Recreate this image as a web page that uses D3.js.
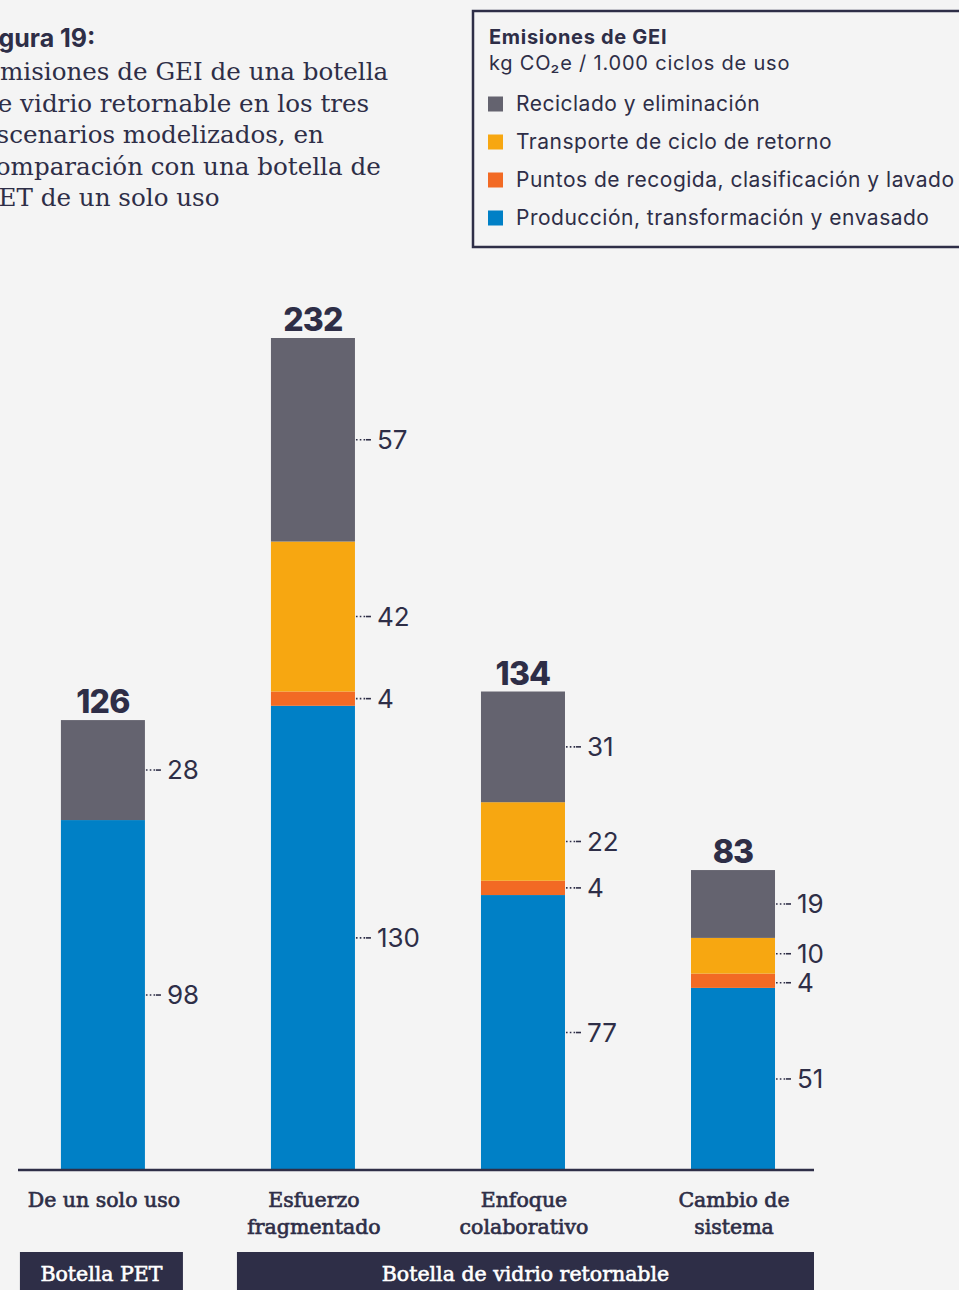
<!DOCTYPE html>
<html>
<head>
<meta charset="utf-8">
<script src="https://cdn.jsdelivr.net/npm/d3@7"></script>
<style>
  html, body { margin: 0; padding: 0; background: #f4f4f4; }
  svg { display: block; }
</style>
</head>
<body>
<svg id="chart" width="959" height="1290"></svg>
<script>
// ---------- DATA ----------
const categories = ["De un solo uso", "Esfuerzo fragmentado", "Enfoque colaborativo", "Cambio de sistema"];
const categoryLines = [["De un solo uso"], ["Esfuerzo", "fragmentado"], ["Enfoque", "colaborativo"], ["Cambio de", "sistema"]];
const seriesKeys = ["produccion", "recogida", "transporte", "reciclado"];
const seriesNames = ["Producción, transformación y envasado", "Puntos de recogida, clasificación y lavado", "Transporte de ciclo de retorno", "Reciclado y eliminación"];
const produccion = [98, 130, 77, 51];
const recogida = [0, 4, 4, 4];
const transporte = [0, 42, 22, 10];
const reciclado = [28, 57, 31, 19];
const totals = [126, 232, 134, 83];
const groupLabels = ["Botella PET", "Botella de vidrio retornable"];
const groupCounts = [1, 3];
const titleBold = "Figura 19:";
const titleLines = ["Emisiones de GEI de una botella", "de vidrio retornable en los tres", "escenarios modelizados, en", "comparación con una botella de", "PET de un solo uso"];
const legendTitle = "Emisiones de GEI";
const legendSubtitle = "kg CO₂e / 1.000 ciclos de uso";

// ---------- STYLE ----------
const colors = { produccion: "#0080c6", recogida: "#f26a24", transporte: "#f7a711", reciclado: "#64636f" };
const dark = "#2e2e47";
const sans = "Inter, Lato, 'Noto Sans', sans-serif";
const slab = "'DejaVu Serif', serif";

const svg = d3.select("#chart");
svg.append("rect").attr("width", 959).attr("height", 1290).attr("fill", "#f4f4f4");

const table = categories.map((c, i) => ({
  cat: c, produccion: produccion[i], recogida: recogida[i], transporte: transporte[i], reciclado: reciclado[i]
}));
const stacked = d3.stack().keys(seriesKeys)(table);

const x = d3.scaleBand().domain(categories).range([18, 814]).paddingInner(0.6).paddingOuter(0.195).align(0.524);
const y = d3.scaleLinear().domain([0, 233]).range([1170, 338]);

// bars
const layer = svg.append("g").selectAll("g").data(stacked).join("g").attr("fill", d => colors[d.key]);
layer.selectAll("rect").data(d => d.map(s => ({ s, key: d.key })).filter(o => o.s[1] > o.s[0]))
  .join("rect")
  .attr("x", o => x(o.s.data.cat))
  .attr("width", x.bandwidth())
  .attr("y", o => y(o.s[1]))
  .attr("height", o => y(o.s[0]) - y(o.s[1]));

// value labels with leaders (with simple collision spacing per bar)
const lbl = svg.append("g");
categories.forEach((c, ci) => {
  const items = [];
  stacked.forEach(ser => {
    const s = ser[ci];
    const v = s[1] - s[0];
    if (v > 0) items.push({ v, ym: (y(s[0]) + y(s[1])) / 2, xr: x(c) + x.bandwidth() });
  });
  const minGap = 29;
  for (let k = 1; k < items.length; k++) {
    const lower = items[k - 1], upper = items[k];
    const gap = lower.ym - upper.ym;
    if (gap < minGap) { const d = (minGap - gap) / 2; lower.ym += d; upper.ym -= d; }
  }
  items.forEach(it => {
    lbl.append("line").attr("x1", it.xr + 1).attr("x2", it.xr + 11).attr("y1", it.ym).attr("y2", it.ym)
      .attr("stroke", dark).attr("stroke-width", 1.6).attr("stroke-dasharray", "1.6,2.2");
    lbl.append("line").attr("x1", it.xr + 11).attr("x2", it.xr + 16).attr("y1", it.ym).attr("y2", it.ym)
      .attr("stroke", dark).attr("stroke-width", 1.6);
    lbl.append("text").attr("x", it.xr + 22).attr("y", it.ym).attr("dy", "0.36em")
      .attr("font-family", sans).attr("font-size", 26).attr("fill", dark).text(it.v);
  });
});

// totals
const topLayer = stacked[stacked.length - 1];
svg.append("g").selectAll("text").data(topLayer).join("text")
  .attr("x", (d) => x(d.data.cat) + x.bandwidth() / 2)
  .attr("y", d => y(d[1]) - 7)
  .attr("text-anchor", "middle")
  .attr("font-family", sans).attr("font-weight", 800).attr("font-size", 32).attr("letter-spacing", -0.8)
  .attr("fill", dark)
  .text((d, i) => totals[i]);

// axis line
svg.append("line").attr("x1", x.range()[0]).attr("x2", x.range()[1]).attr("y1", y(0)).attr("y2", y(0))
  .attr("stroke", dark).attr("stroke-width", 2.5);

// category labels
categories.forEach((c, i) => {
  const cx = x(c) + x.bandwidth() / 2 + 1;
  const t = svg.append("text").attr("x", cx).attr("y", 1207)
    .attr("text-anchor", "middle").attr("font-family", slab).attr("font-size", 20.5)
    .attr("fill", dark).attr("stroke", dark).attr("stroke-width", 0.65);
  categoryLines[i].forEach((ln, j) => t.append("tspan").attr("x", cx).attr("dy", j ? 27 : 0).text(ln));
});

// group boxes
let idx = 0;
groupLabels.forEach((g, gi) => {
  const first = categories[idx];
  idx += groupCounts[gi];
  let x0, x1;
  if (gi === 0) { x0 = x(first) + x.bandwidth() / 2 - 83; x1 = x(first) + x.bandwidth() / 2 + 80; }
  else { x0 = x(first) - 34; x1 = x.range()[1]; }
  svg.append("rect").attr("x", x0).attr("y", 1252).attr("width", x1 - x0).attr("height", 40).attr("fill", dark);
  svg.append("text").attr("x", (x0 + x1) / 2).attr("y", 1281).attr("text-anchor", "middle")
    .attr("font-family", slab).attr("font-size", 20.5).attr("fill", "#ffffff")
    .attr("stroke", "#ffffff").attr("stroke-width", 0.6).text(g);
});

// title
svg.append("text").attr("x", -23).attr("y", 47).attr("font-family", sans).attr("font-weight", 700)
  .attr("font-size", 25).attr("fill", dark).text(titleBold);
titleLines.forEach((ln, i) => {
  svg.append("text").attr("x", -18).attr("y", 80 + i * 31.6).attr("font-family", slab).attr("font-size", 24.6)
    .attr("fill", dark).text(ln);
});

// legend
svg.append("rect").attr("x", 473).attr("y", 11).attr("width", 500).attr("height", 236)
  .attr("fill", "none").attr("stroke", dark).attr("stroke-width", 2.5);
svg.append("text").attr("x", 489).attr("y", 44).attr("font-family", sans).attr("font-weight", 700)
  .attr("font-size", 20).attr("letter-spacing", 0.7).attr("fill", dark).text(legendTitle);
svg.append("text").attr("x", 489).attr("y", 70).attr("font-family", sans)
  .attr("font-size", 20).attr("letter-spacing", 0.8).attr("fill", dark).text(legendSubtitle);
const legendOrder = seriesKeys.slice().reverse();
legendOrder.forEach((k, i) => {
  const yy = 104 + i * 38;
  svg.append("rect").attr("x", 488).attr("y", yy - 7.5).attr("width", 15).attr("height", 15).attr("fill", colors[k]);
  svg.append("text").attr("x", 516).attr("y", yy).attr("dy", "0.35em").attr("font-family", sans)
    .attr("font-size", 21).attr("letter-spacing", 0.5).attr("fill", dark).text(seriesNames[seriesKeys.indexOf(k)]);
});
</script>
</body>
</html>
